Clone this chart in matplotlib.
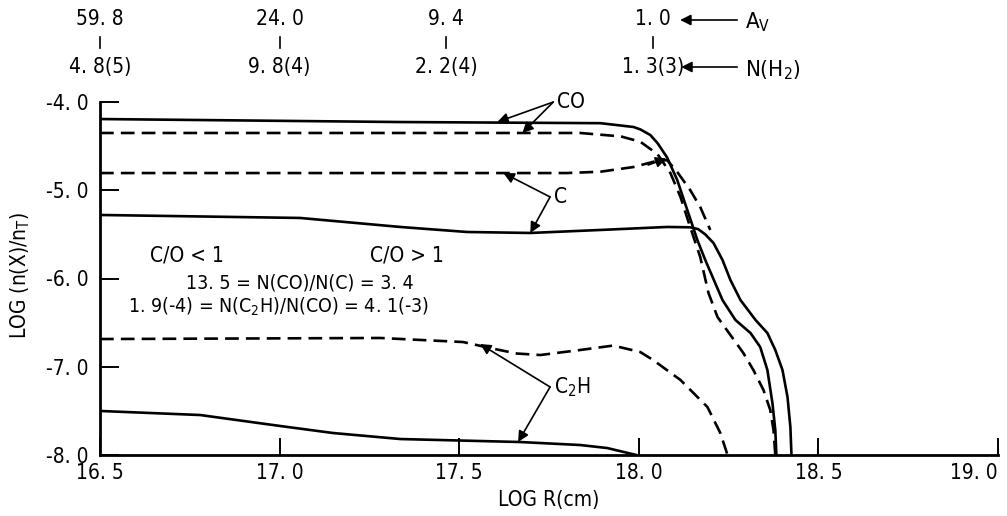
import numpy as np
import matplotlib
matplotlib.use("Agg")
import matplotlib.pyplot as plt
from matplotlib import font_manager
from matplotlib.transforms import blended_transform_factory

# the scan uses a condensed typeface; take a condensed one if there is any
fonts = font_manager.fontManager.ttflist
narrow = [f for f in fonts if f.name == 'DejaVu Sans' and f.stretch in ('condensed', 575, 'semi-condensed')]
if narrow:
    plt.rcParams['font.family'] = ['DejaVu Sans']
    plt.rcParams['font.stretch'] = 'condensed'
else:
    plt.rcParams['font.family'] = ['Liberation Sans', 'DejaVu Sans']
fs = 15
plt.rcParams['mathtext.fontset'] = 'custom'
plt.rcParams['mathtext.rm'] = plt.rcParams['font.family'][0]

# abundance curves, LOG R(cm) vs LOG n(X)/n_T  (solid: C/O < 1, dashed: C/O > 1)
co_solid_r = [16.5, 17.336, 17.893, 17.985, 18.004, 18.032, 18.052, 18.079, 18.107, 18.135,
              18.163, 18.185, 18.233, 18.269, 18.311, 18.338, 18.358, 18.372, 18.380, 18.383]
co_solid_y = [-4.193, -4.227, -4.24, -4.283, -4.310, -4.374, -4.465, -4.630, -4.884, -5.224,
              -5.564, -5.790, -6.244, -6.470, -6.618, -6.776, -7.037, -7.411, -7.717, -8.0]

co_dash_r = [16.5, 17.837, 17.95, 18.004, 18.052, 18.088, 18.116, 18.143, 18.171, 18.194,
             18.219, 18.255, 18.291, 18.319, 18.347, 18.366, 18.375, 18.380]
co_dash_y = [-4.351, -4.351, -4.39, -4.450, -4.590, -4.805, -5.076, -5.416, -5.756, -6.164,
             -6.436, -6.640, -6.844, -7.037, -7.263, -7.490, -7.717, -8.0]

c_dash_r = [16.5, 17.80, 17.893, 17.985, 18.052, 18.079, 18.107, 18.143, 18.171, 18.199]
c_dash_y = [-4.805, -4.805, -4.790, -4.737, -4.665, -4.660, -4.793, -4.997, -5.190, -5.450]

c_solid_r = [16.5, 17.057, 17.336, 17.522, 17.698, 17.893, 18.079, 18.143, 18.165, 18.185,
             18.208, 18.233, 18.255, 18.283, 18.325, 18.358, 18.380, 18.400, 18.414, 18.422,
             18.425]
c_solid_y = [-5.280, -5.314, -5.416, -5.473, -5.484, -5.450, -5.416, -5.420, -5.440, -5.500,
             -5.598, -5.790, -6.017, -6.244, -6.470, -6.618, -6.810, -7.037, -7.343, -7.683,
             -8.0]

c2h_dash_r = [16.5, 17.280, 17.511, 17.586, 17.660, 17.726, 17.837, 17.929, 18.004, 18.040,
              18.116, 18.191, 18.227, 18.247]
c2h_dash_y = [-6.686, -6.674, -6.720, -6.788, -6.850, -6.867, -6.810, -6.760, -6.833, -6.924,
              -7.150, -7.456, -7.751, -8.0]

c2h_solid_r = [16.5, 16.779, 17.001, 17.149, 17.336, 17.670, 17.837, 17.912, 17.993]
c2h_solid_y = [-7.501, -7.547, -7.671, -7.751, -7.819, -7.853, -7.887, -7.921, -8.0]

x_ticks = [16.5, 17.0, 17.5, 18.0, 18.5, 19.0]
x_labels = ["16. 5", "17. 0", "17. 5", "18. 0", "18. 5", "19. 0"]
y_ticks = [-4.0, -5.0, -6.0, -7.0, -8.0]
y_labels = ["-4. 0", "-5. 0", "-6. 0", "-7. 0", "-8. 0"]

# top scale: visual extinction and H2 column at some radii
top_r = [16.5, 17.0, 17.464, 18.04]
av_labels = ["59. 8", "24. 0", "9. 4", "1. 0"]
nh2_labels = ["4. 8(5)", "9. 8(4)", "2. 2(4)", "1. 3(3)"]

fig = plt.figure(figsize=(10.07, 5.16), dpi=100)
ax = fig.add_axes([100/1007, 61/516, 898/1007, 353/516])

lw = 1.9
dash = (0, (5.2, 2.7))
ax.plot(co_solid_r, co_solid_y, color='black', lw=lw, solid_joinstyle='round')
ax.plot(co_dash_r, co_dash_y, color='black', lw=lw, ls=dash)
ax.plot(c_dash_r, c_dash_y, color='black', lw=lw, ls=dash)
ax.plot(c_solid_r, c_solid_y, color='black', lw=lw, solid_joinstyle='round')
ax.plot(c2h_dash_r, c2h_dash_y, color='black', lw=lw, ls=dash)
ax.plot(c2h_solid_r, c2h_solid_y, color='black', lw=lw, solid_joinstyle='round')

ax.set_xlim(16.5, 19.0)
ax.set_ylim(-8.0, -4.0)
ax.set_xticks(x_ticks)
ax.set_xticklabels(x_labels)
ax.set_yticks(y_ticks)
ax.set_yticklabels(y_labels)
ax.tick_params(axis='x', direction='in', length=12, width=1.4, labelsize=fs, pad=6)
ax.tick_params(axis='y', direction='in', length=14, width=1.4, labelsize=fs, pad=8)
ax.get_xticklabels()[-1].set_horizontalalignment('right')
for s in ['top', 'right']:
    ax.spines[s].set_visible(False)
for s in ['left', 'bottom']:
    ax.spines[s].set_linewidth(2)

ax.set_xlabel("LOG R(cm)", fontsize=fs)
ax.xaxis.set_label_coords(0.5, -0.1)
ax.set_ylabel(r"LOG (n(X)/n$_\mathrm{T}$)", fontsize=fs)
ax.yaxis.set_label_coords(-0.076, 0.51)

# labels with arrows
arrow = dict(arrowstyle='-|>', color='black', lw=1.2, shrinkA=0, shrinkB=0, mutation_scale=16)
labels = [
    ("CO", (17.762, -4.0), [(17.606, -4.227), (17.676, -4.351)]),
    ("C", (17.753, -5.076), [(17.623, -4.805), (17.698, -5.484)]),
    (r"C$_\mathrm{2}$H", (17.753, -7.229), [(17.558, -6.742), (17.664, -7.853)]),
]
for txt, vert, targets in labels:
    for t in targets:
        ax.annotate('', xy=t, xytext=vert, arrowprops=arrow, annotation_clip=False)
    ax.text(vert[0] + 0.01, vert[1], txt, fontsize=fs, ha='left', va='center', clip_on=False)
ax.annotate('', xy=(18.077, -4.64), xytext=(18.026, -4.714), arrowprops=arrow)

ax.text(16.639, -5.734, "C/O < 1", fontsize=fs, ha='left', va='center')
ax.text(17.252, -5.734, "C/O > 1", fontsize=fs, ha='left', va='center')
ax.text(17.055, -6.05, "13. 5 = N(CO)/N(C) = 3. 4", fontsize=14, ha='center', va='center')
ax.text(16.996, -6.32, r"1. 9(-4) = N(C$_\mathrm{2}$H)/N(CO) = 4. 1(-3)", fontsize=14,
        ha='center', va='center')

# top scale
trans = blended_transform_factory(ax.transData, fig.transFigure)
for r, av, nh in zip(top_r, av_labels, nh2_labels):
    ax.text(r, 1 - 19/516, av, fontsize=fs, ha='center', va='center', transform=trans)
    ax.plot([r, r], [1 - 37/516, 1 - 48/516], color='black', lw=1.2, transform=trans, clip_on=False)
    ax.text(r, 1 - 67/516, nh, fontsize=fs, ha='center', va='center', transform=trans)

ax.annotate('', xy=(18.115, 1 - 20/516), xytext=(18.274, 1 - 20/516), xycoords=trans,
            textcoords=trans, arrowprops=arrow)
ax.annotate('', xy=(18.118, 1 - 67/516), xytext=(18.274, 1 - 67/516), xycoords=trans,
            textcoords=trans, arrowprops=arrow)
ax.text(18.297, 1 - 22/516, r"A$_\mathrm{V}$", fontsize=fs + 1, ha='left', va='center', transform=trans)
ax.text(18.297, 1 - 70/516, r"N(H$_\mathrm{2}$)", fontsize=fs + 1, ha='left', va='center', transform=trans)

fig.savefig("out.png", dpi=100)
